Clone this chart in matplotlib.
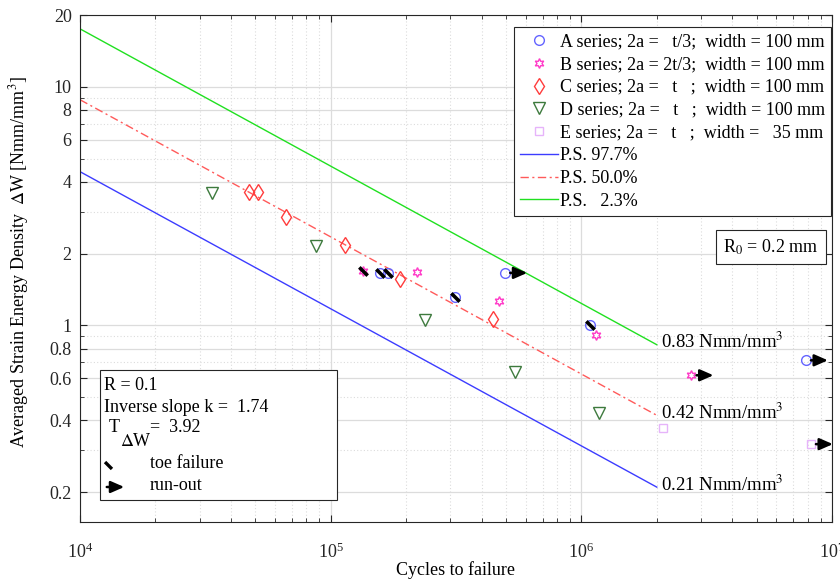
import matplotlib

matplotlib.use("Agg")
import matplotlib.pyplot as plt
from matplotlib.lines import Line2D
from matplotlib.patches import FancyArrowPatch, Rectangle
from matplotlib.path import Path
from matplotlib.ticker import FixedLocator, LogLocator, NullFormatter
from matplotlib.transforms import offset_copy

plt.rcParams["font.family"] = ["Liberation Serif", "DejaVu Serif"]
plt.rcParams["mathtext.fontset"] = "stix"

FS = 13
W, H = 840, 581

# --- data ---
A_N = [1.58e5, 1.70e5, 3.13e5, 4.97e5, 1.08e6, 7.87e6]
A_W = [1.66, 1.66, 1.31, 1.66, 1.00, 0.714]
A_TOE = [1, 1, 1, 0, 1, 0]
A_RUNOUT = [0, 0, 0, 1, 0, 1]

B_N = [1.35e5, 2.22e5, 4.70e5, 1.14e6, 2.75e6]
B_W = [1.69, 1.67, 1.27, 0.908, 0.618]
B_TOE = [1, 0, 0, 0, 0]
B_RUNOUT = [0, 0, 0, 0, 1]

C_N = [4.74e4, 5.12e4, 6.61e4, 1.14e5, 1.89e5, 4.46e5]
C_W = [3.61, 3.61, 2.84, 2.18, 1.56, 1.06]

D_N = [3.36e4, 8.70e4, 2.38e5, 5.45e5, 1.18e6]
D_W = [3.59, 2.15, 1.05, 0.638, 0.431]

E_N = [2.12e6, 8.24e6]
E_W = [0.373, 0.318]
E_RUNOUT = [0, 1]

PS_N = [1e4, 2e6]
PS_977 = [4.41, 0.21]
PS_500 = [8.83, 0.42]
PS_023 = [17.5, 0.83]
PS_LABELS = ["0.83 Nmm/mm$^3$", "0.42 Nmm/mm$^3$", "0.21 Nmm/mm$^3$"]

Y_TICKS = [0.2, 0.4, 0.6, 0.8, 1, 2, 4, 6, 8, 10, 20]
Y_MINOR = [0.3, 0.5, 0.7, 0.9, 3, 5, 7, 9]

LEGEND_LABELS = [
    "A series; 2a =   t/3;  width = 100 mm",
    "B series; 2a = 2t/3;  width = 100 mm",
    "C series; 2a =   t   ;  width = 100 mm",
    "D series; 2a =   t   ;  width = 100 mm",
    "E series; 2a =   t   ;  width =   35 mm",
    "P.S. 97.7%",
    "P.S. 50.0%",
    "P.S.   2.3%",
]

BLUE = "#3c3cff"
RED = "#ff5a5a"
GREEN = "#20e020"
A_COL = "#6464ff"
B_COL = "#ff3cc8"
C_COL = "#ff3c3c"
D_COL = "#3d7a3d"
E_COL = "#e6b4fa"

TOE = Path([(-1, 1), (1, -1)], [Path.MOVETO, Path.LINETO])
STAR = (6, 1, 0)
ARROW = "-|>,head_length=0.8,head_width=0.35"


def fx(px):
    return px / W


def fy(py):
    return 1 - py / H


def add_toe(ax, xs, ys, flags):
    for x, y, f in zip(xs, ys, flags):
        if f:
            ax.plot(x, y, marker=TOE, ms=6, mew=2.6, color="k", ls="none", zorder=5)


def add_runout(ax, fig, xs, ys, flags):
    start = offset_copy(ax.transData, fig=fig, x=5, y=0, units="dots")
    end = offset_copy(ax.transData, fig=fig, x=22, y=0, units="dots")
    for x, y, f in zip(xs, ys, flags):
        if f:
            ax.annotate(
                "",
                xy=(x, y),
                xycoords=end,
                xytext=(x, y),
                textcoords=start,
                arrowprops=dict(arrowstyle=ARROW, color="k", lw=1.8, shrinkA=0, shrinkB=0),
                zorder=6,
            )


fig = plt.figure(figsize=(W / 100, H / 100), dpi=100)
ax = fig.add_axes([fx(80), fy(522), fx(832) - fx(80), fy(15) - fy(522)])

ax.plot(PS_N, PS_977, color=BLUE, lw=1.0, zorder=2)
ax.plot(PS_N, PS_500, color=RED, lw=1.0, dashes=(6, 2.5, 1.5, 2.5), zorder=2)
ax.plot(PS_N, PS_023, color=GREEN, lw=1.0, zorder=2)

ax.plot(A_N, A_W, ls="none", marker="o", ms=7, mfc="none", mec=A_COL, mew=1.0, zorder=4)
ax.plot(B_N, B_W, ls="none", marker=STAR, ms=7, mfc="none", mec=B_COL, mew=1.0, zorder=4)
ax.plot(C_N, C_W, ls="none", marker="d", ms=8.5, mfc="none", mec=C_COL, mew=1.0, zorder=4)
ax.plot(D_N, D_W, ls="none", marker="v", ms=8, mfc="none", mec=D_COL, mew=1.0, zorder=4)
ax.plot(E_N, E_W, ls="none", marker="s", ms=6, mfc="none", mec=E_COL, mew=1.0, zorder=4)

add_toe(ax, A_N, A_W, A_TOE)
add_toe(ax, B_N, B_W, B_TOE)
add_runout(ax, fig, A_N, A_W, A_RUNOUT)
add_runout(ax, fig, B_N, B_W, B_RUNOUT)
add_runout(ax, fig, E_N, E_W, E_RUNOUT)

for vals, lab in zip([PS_023, PS_500, PS_977], PS_LABELS):
    ax.annotate(lab, xy=(PS_N[-1], vals[-1]), xytext=(3, 2), textcoords="offset points",
                va="center", ha="left", fontsize=FS + 0.5)

ax.set_xscale("log")
ax.set_yscale("log")
ax.set_xlim(1e4, 1e7)
ax.set_ylim(0.15, 20)
ax.xaxis.set_major_locator(LogLocator(base=10))
ax.xaxis.set_minor_locator(LogLocator(base=10, subs=range(2, 10)))
ax.xaxis.set_minor_formatter(NullFormatter())
ax.yaxis.set_major_locator(FixedLocator(Y_TICKS))
ax.yaxis.set_minor_locator(FixedLocator(Y_MINOR))
ax.set_yticklabels([f"{t:g}" for t in Y_TICKS])
ax.yaxis.set_minor_formatter(NullFormatter())

ax.grid(which="major", color="#dcdcdc", lw=0.9, ls="-")
ax.grid(which="minor", color="#dcdcdc", lw=0.8, ls=(0, (1, 2)))
ax.set_axisbelow(True)
ax.tick_params(which="both", direction="in", top=True, right=True, labelsize=FS, colors="#262626")
ax.tick_params(which="major", length=5, width=0.8)
ax.tick_params(which="minor", length=3, width=0.6)
ax.tick_params(axis="x", pad=15)
ax.tick_params(axis="y", pad=6)
for s in ax.spines.values():
    s.set_color("#262626")
    s.set_linewidth(0.8)

ax.set_xlabel("Cycles to failure", fontsize=FS, labelpad=-1)
fig.text(fx(19), fy(262), r"Averaged Strain Energy Density  $\Delta$W [Nmm/mm$^3$]",
         rotation=90, ha="center", va="center", fontsize=FS)

handles = [
    Line2D([], [], ls="none", marker="o", ms=7, mfc="none", mec=A_COL),
    Line2D([], [], ls="none", marker=STAR, ms=7, mfc="none", mec=B_COL),
    Line2D([], [], ls="none", marker="d", ms=8.5, mfc="none", mec=C_COL),
    Line2D([], [], ls="none", marker="v", ms=8, mfc="none", mec=D_COL),
    Line2D([], [], ls="none", marker="s", ms=6, mfc="none", mec=E_COL),
    Line2D([], [], color=BLUE, lw=1.0),
    Line2D([], [], color=RED, lw=1.0, dashes=(6, 2.5, 1.5, 2.5)),
    Line2D([], [], color=GREEN, lw=1.0),
]
leg = ax.legend(handles, LEGEND_LABELS, loc="upper right", bbox_to_anchor=(fx(831), fy(27)),
                bbox_transform=fig.transFigure, borderaxespad=0, fontsize=FS, handlelength=2.1,
                handletextpad=0.1, labelspacing=0.32, borderpad=0.35, fancybox=False, framealpha=1)
leg.get_frame().set_edgecolor("#262626")
leg.get_frame().set_linewidth(0.8)

fig.text(fx(771), fy(247), "R$_0$ = 0.2 mm", ha="center", va="center", fontsize=FS,
         bbox=dict(boxstyle="square,pad=0.4", fc="white", ec="#262626", lw=0.8))

# lower-left info box
fig.add_artist(Rectangle((fx(100), fy(500)), fx(337) - fx(100), fy(370) - fy(500),
                         transform=fig.transFigure, fc="white", ec="#262626", lw=0.8, zorder=3))
fig.text(fx(104), fy(386), "R = 0.1", va="center", fontsize=FS, zorder=4)
fig.text(fx(104), fy(408), "Inverse slope k =  1.74", va="center", fontsize=FS, zorder=4)
fig.text(fx(109), fy(428), "T", va="center", fontsize=FS, zorder=4)
fig.text(fx(120), fy(442), r"$\Delta$W", va="center", fontsize=FS, zorder=4)
fig.text(fx(150), fy(428), "=  3.92", va="center", fontsize=FS, zorder=4)
fig.add_artist(Line2D([fx(108)], [fy(465)], marker=TOE, ms=5, mew=2.4, color="k",
                      transform=fig.transFigure, zorder=4))
fig.text(fx(150), fy(463), "toe failure", va="center", fontsize=FS, zorder=4)
fig.add_artist(FancyArrowPatch((fx(104), fy(487)), (fx(127), fy(487)),
                               transform=fig.transFigure, arrowstyle=ARROW,
                               mutation_scale=10, color="k", lw=1.8, zorder=5))
fig.text(fx(150), fy(485), "run-out", va="center", fontsize=FS, zorder=4)

fig.savefig("out.png", dpi=100)
